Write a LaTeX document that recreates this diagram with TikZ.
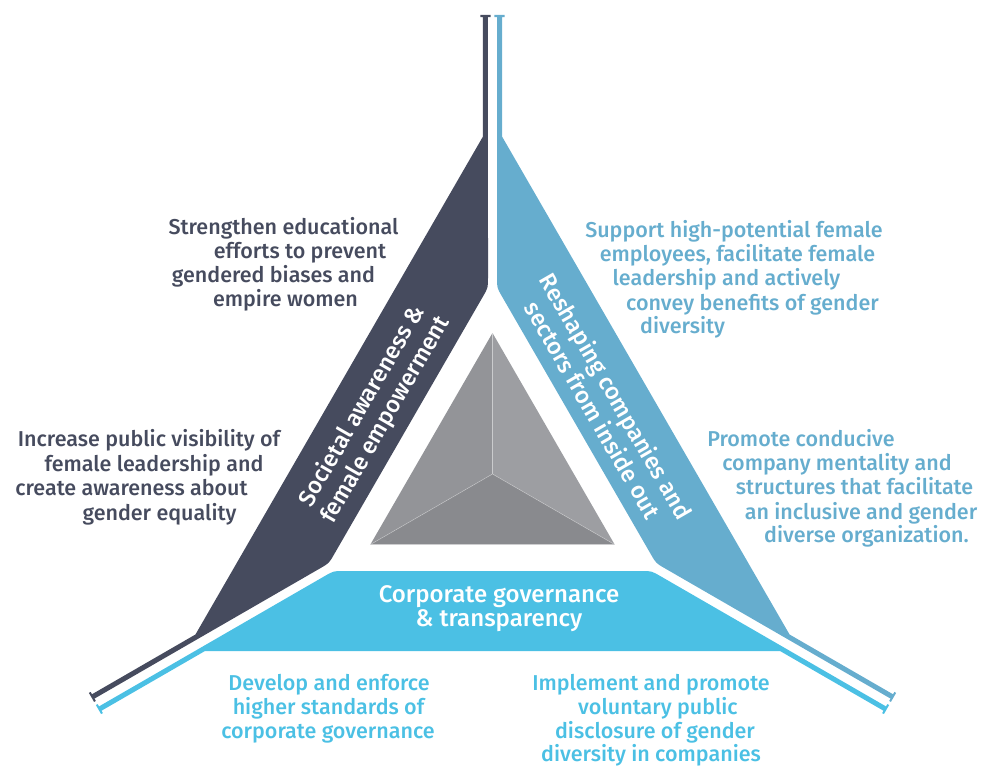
\documentclass[tikz,border=0pt]{standalone}
\usepackage{fontspec}
\setmainfont{Fira Sans}[UprightFont=* Medium]
\definecolor{navy}{HTML}{464B5E}
\definecolor{lblue}{HTML}{66ADCE}
\definecolor{cyanb}{HTML}{4BC0E4}
\definecolor{faceL}{HTML}{939498}
\definecolor{faceR}{HTML}{9D9EA2}
\definecolor{faceB}{HTML}{898A8E}
\newcommand\mybandpath{%
  (-149,-97) -- (149,-97) .. controls (159,-97) .. (167.66,-102)
  -- (393.5,-232.4) -- (394.86,-230.06) -- (396.6,-231.06) -- (391.4,-240.07)
  -- (389.66,-239.07) -- (391.01,-236.73) -- (287.5,-177)
  -- (-287.5,-177) -- (-391.01,-236.73) -- (-389.66,-239.07) -- (-391.4,-240.07)
  -- (-396.6,-231.06) -- (-394.86,-230.06) -- (-393.5,-232.4)
  -- (-167.66,-102) .. controls (-159,-97) .. (-149,-97) -- cycle}
\begin{document}
\begin{tikzpicture}[x=1pt,y=1pt,
  bodytxt/.style={anchor=base, inner sep=0pt, font=\fontsize{21.5}{24}\selectfont},
  navytxt/.style={bodytxt, text=navy},
  bluetxt/.style={bodytxt, text=lblue},
  cyantxt/.style={bodytxt, text=cyanb},
  bandlbl/.style={inner sep=0pt, text=white, align=center, font=\fontsize{23.5}{27}\selectfont},
  pyredge/.style={draw=white, draw opacity=0.35, line width=0.6pt}]
\useasboundingbox (0,0) rectangle (993,-767);
\coordinate (C) at (492.5,-474);
% bands
\begin{scope}[shift={(C)}]
  \fill[cyanb] \mybandpath;
  \begin{scope}[rotate=120]
    \fill[lblue] \mybandpath;
  \end{scope}
  \begin{scope}[rotate=240]
    \fill[navy] \mybandpath;
  \end{scope}
  % pyramid
  \coordinate (PT) at (90:141);
  \coordinate (PL) at (210:141);
  \coordinate (PR) at (330:141);
  \coordinate (PC) at (0,0);
  \fill[faceL] (PT) -- (PL) -- (PC) -- cycle;
  \fill[faceR] (PT) -- (PR) -- (PC) -- cycle;
  \fill[faceB] (PL) -- (PR) -- (PC) -- cycle;
  \draw[pyredge] (PT) -- (PC) (PL) -- (PC) (PR) -- (PC) (PL) -- (PR);
\end{scope}
% band labels
\node[bandlbl, rotate=60] (lblL) at (374,-413) {Societal awareness \&\\female empowerment};
\node[bandlbl, rotate=-60] (lblR) at (605,-403) {Reshaping companies and\\sectors from inside out};
\node[bandlbl, font=\fontsize{24}{24}\selectfont] (lblB) at (499,-609) {Corporate governance\\\& transparency};
% left top text
\node[navytxt] (lt1) at (283.5,-235) {Strengthen educational};
\node[navytxt] (lt2) at (300,-259) {efforts to prevent};
\node[navytxt] (lt3) at (273.5,-283) {gendered biases and};
\node[navytxt] (lt4) at (285.5,-307) {empire women};
% left middle text
\node[navytxt] (lm1) at (149,-446.5) {Increase public visibility of};
\node[navytxt] (lm2) at (154,-471) {female leadership and};
\node[navytxt] (lm3) at (131.5,-495) {create awareness about};
\node[navytxt] (lm4) at (159.5,-520) {gender equality};
% right top text
\node[bluetxt] (rt1) at (734,-238) {Support high-potential female};
\node[bluetxt] (rt2) at (737.5,-262) {employees, facilitate female};
\node[bluetxt] (rt3) at (726.5,-286) {leadership and actively};
\node[bluetxt] (rt4) at (752.5,-310) {convey benefits of gender};
\node[bluetxt] (rt5) at (682.5,-333) {diversity};
% right middle text
\node[bluetxt] (rm1) at (801,-446.5) {Promote conducive};
\node[bluetxt] (rm2) at (837,-470) {company mentality and};
\node[bluetxt] (rm3) at (854.5,-494) {structures that facilitate};
\node[bluetxt] (rm4) at (861,-519) {an inclusive and gender};
\node[bluetxt] (rm5) at (866.5,-542) {diverse organization.};
% bottom left text
\node[cyantxt] (bl1) at (329,-690) {Develop and enforce};
\node[cyantxt] (bl2) at (328.5,-714) {higher standards of};
\node[cyantxt] (bl3) at (328,-738) {corporate governance};
% bottom right text
\node[cyantxt] (br1) at (651,-690) {Implement and promote};
\node[cyantxt] (br2) at (658,-714) {voluntary public};
\node[cyantxt] (br3) at (655,-738) {disclosure of gender};
\node[cyantxt] (br4) at (651,-761) {diversity in companies};
\end{tikzpicture}
\end{document}
